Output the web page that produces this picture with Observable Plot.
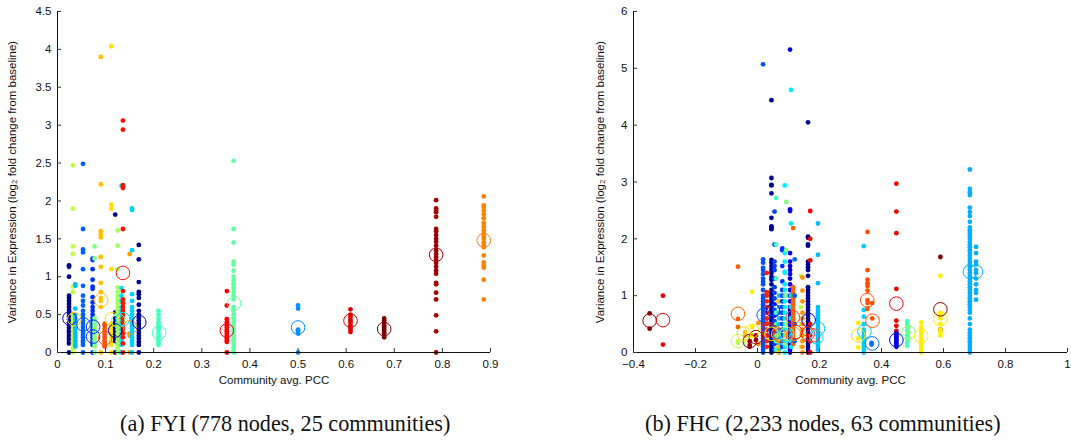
<!DOCTYPE html>
<html>
<head>
<meta charset="utf-8">
<script src="https://cdn.jsdelivr.net/npm/d3@7"></script>
<script src="https://cdn.jsdelivr.net/npm/@observablehq/plot@0.6"></script>
<style>
  html, body { margin: 0; padding: 0; background: #fff; }
  #wrap { position: relative; width: 1071px; height: 441px; overflow: hidden; }
  .panel { position: absolute; top: 0; }
  .cap { position: absolute; top: 411px; font-family: "Liberation Serif", "DejaVu Serif", serif; font-size: 22.2px; color: #111; white-space: nowrap; }
</style>
</head>
<body>
<div id="wrap">
  <div id="left" class="panel" style="left:0px"></div>
  <div id="right" class="panel" style="left:535px"></div>
  <div id="capA" class="cap"></div>
  <div id="capB" class="cap"></div>
</div>
<script>
// ---------- FYI (left) ----------
const fyiX = [0.024, 0.032, 0.037, 0.053, 0.073, 0.077, 0.09, 0.098, 0.112, 0.12, 0.125, 0.133, 0.136, 0.15, 0.155, 0.169, 0.21, 0.352, 0.366, 0.5, 0.609, 0.679, 0.787, 0.886];
const fyiColor = ["#00008f", "#bfff40", "#00bfff", "#0060ff", "#0030ff", "#80ff80", "#ffbf00", "#ff5000", "#ffdf00", "#00008f", "#a0ff60", "#00dfff", "#ff1000", "#ffa000", "#00cfff", "#00008f", "#40ffbf", "#ff0000", "#60ff9f", "#0090ff", "#df0000", "#800000", "#a00000", "#ff8000"];
const fyiValues = [
  [0, 0.12, 0.14, 0.17, 0.2, 0.22, 0.25, 0.28, 0.3, 0.33, 0.36, 0.4, 0.44, 0.48, 0.52, 0.56, 0.6, 0.64, 0.68, 0.72, 0.75, 1.0, 1.13, 1.15],
  [0, 0.05, 0.1, 0.15, 0.2, 0.25, 0.3, 0.35, 0.4, 0.45, 0.5, 0.8, 0.87, 1.3, 1.4, 1.9, 2.47],
  [0.08, 0.1, 0.13, 0.16, 0.2, 0.23, 0.26, 0.3, 0.33, 0.37, 0.4, 0.45, 0.5, 0.58, 0.88, 0.9],
  [0, 0.1, 0.13, 0.16, 0.2, 0.23, 0.26, 0.3, 0.34, 0.38, 0.42, 0.46, 0.5, 0.55, 0.62, 0.68, 0.75, 0.88, 1.1, 1.32, 1.36, 1.63, 2.49],
  [0, 0.1, 0.13, 0.16, 0.2, 0.23, 0.26, 0.3, 0.34, 0.38, 0.42, 0.46, 0.5, 0.55, 0.6, 0.66, 0.73, 0.84, 0.87, 0.96, 1.1, 1.22, 1.24],
  [0, 0.08, 0.12, 0.16, 0.2, 0.24, 0.28, 0.32, 0.36, 0.4, 0.45, 1.24, 1.4],
  [0, 0.6, 0.68, 0.72, 0.8, 0.92, 1.13, 1.26, 1.52, 1.56, 1.6, 2.22, 3.9],
  [0.08, 0.1, 0.13, 0.16, 0.2, 0.24, 0.28, 0.32, 0.36, 0.38],
  [0, 0.1, 0.15, 0.2, 0.25, 0.3, 0.35, 0.38, 1.1, 1.9, 1.95, 4.04],
  [0, 0.15, 0.18, 0.21, 0.24, 0.27, 0.3, 0.33, 0.36, 0.4, 0.45, 0.53, 1.82],
  [0, 0.06, 0.1, 0.15, 0.2, 0.25, 0.3, 0.35, 0.4, 0.45, 0.5, 0.55, 0.6, 0.65, 0.7, 0.75, 0.8, 0.86, 1.1, 1.41, 1.61],
  [0, 0.1, 0.15, 0.2, 0.25, 0.3, 0.35, 0.4, 0.45, 0.5, 0.55, 0.6, 0.68, 0.75, 0.85, 2.2],
  [0, 0.12, 0.2, 0.25, 0.3, 0.35, 0.4, 0.45, 0.5, 0.55, 0.6, 0.65, 0.7, 0.81, 1.63, 2.17, 2.19, 2.21, 2.94, 3.06],
  [0, 0.22, 0.25, 1.3],
  [0, 0.1, 0.13, 0.16, 0.2, 0.24, 0.28, 0.32, 0.36, 0.4, 0.45, 0.5, 0.55, 0.6, 0.68, 0.77, 1.35, 1.88, 1.9],
  [0, 0.1, 0.14, 0.18, 0.22, 0.26, 0.3, 0.34, 0.38, 0.42, 0.46, 0.5, 0.55, 0.63, 0.72, 0.77, 0.8, 0.93, 1.23, 1.42],
  [0.1, 0.13, 0.16, 0.2, 0.23, 0.26, 0.3, 0.33, 0.36, 0.4, 0.45, 0.5, 0.55],
  [0, 0.14, 0.16, 0.18, 0.2, 0.22, 0.25, 0.28, 0.3, 0.33, 0.36, 0.4, 0.44, 0.62, 0.81],
  [0, 0.04, 0.08, 0.12, 0.16, 0.2, 0.24, 0.28, 0.32, 0.36, 0.4, 0.45, 0.5, 0.55, 0.6, 0.7, 0.75, 0.8, 0.85, 0.9, 0.95, 1.0, 1.08, 1.16, 1.2, 1.45, 1.63, 2.53],
  [0, 0.25, 0.27, 0.29, 0.3, 0.58, 0.62],
  [0.27, 0.3, 0.33, 0.36, 0.4, 0.43, 0.47, 0.5, 0.57],
  [0.2, 0.22, 0.25, 0.27, 0.3, 0.33, 0.36, 0.39, 0.42, 0.45],
  [0, 0.28, 0.49, 0.7, 0.79, 0.9, 0.92, 1.04, 1.08, 1.13, 1.18, 1.22, 1.26, 1.3, 1.35, 1.41, 1.46, 1.5, 1.55, 1.6, 1.63, 1.79, 1.85, 1.87, 1.9, 2.01],
  [0.7, 0.96, 1.12, 1.15, 1.19, 1.28, 1.39, 1.42, 1.45, 1.5, 1.53, 1.57, 1.61, 1.66, 1.71, 1.77, 1.82, 1.87, 1.92, 1.94, 2.06]
];
const fyiMeanX = [0.025, 0.035, 0.054, 0.074, 0.074, 0.091, 0.099, 0.113, 0.12, 0.126, 0.136, 0.136, 0.151, 0.17, 0.211, 0.352, 0.367, 0.5, 0.609, 0.679, 0.787, 0.886];
const fyiMeanY = [0.45, 0.44, 0.37, 0.34, 0.21, 0.69, 0.19, 0.44, 0.29, 0.42, 1.05, 0.44, 0.33, 0.40, 0.26, 0.29, 0.65, 0.33, 0.42, 0.31, 1.29, 1.48];
const fyiMeanColor = ["#0000df", "#ffdf00", "#0060ff", "#0030ff", "#0030ff", "#ffbf00", "#ff5000", "#ffdf00", "#00008f", "#80ff80", "#ff1000", "#00dfff", "#ffa000", "#0000bf", "#40ffbf", "#ff0000", "#60ff9f", "#0090ff", "#df0000", "#800000", "#a00000", "#ff8000"];
const fyiXTicks = [0, 0.1, 0.2, 0.3, 0.4, 0.5, 0.6, 0.7, 0.8, 0.9];
const fyiXTickLabels = ["0", "0.1", "0.2", "0.3", "0.4", "0.5", "0.6", "0.7", "0.8", "0.9"];
const fyiYTicks = [0, 0.5, 1, 1.5, 2, 2.5, 3, 3.5, 4, 4.5];
const fyiYTickLabels = ["0", "0.5", "1", "1.5", "2", "2.5", "3", "3.5", "4", "4.5"];

// ---------- FHC (right) ----------
const fhcX = [-0.348, -0.305, -0.063, -0.063, -0.017, -0.025, -0.005, -0.04, 0.003, 0.018, 0.03, 0.045, 0.055, 0.06, 0.07, 0.068, 0.08, 0.088, 0.093, 0.105, 0.108, 0.115, 0.12, 0.14, 0.145, 0.163, 0.17, 0.195, 0.343, 0.355, 0.37, 0.325, 0.368, 0.448, 0.448, 0.483, 0.487, 0.528, 0.59, 0.59, 0.685, 0.705];
const fhcColor = ["#8f0000", "#ef0000", "#ff6000", "#bfff40", "#ffef00", "#8f0000", "#a00000", "#ffbf00", "#ff8f00", "#0050ff", "#ff2000", "#00008f", "#0040ff", "#40ffbf", "#00bfff", "#ffbf00", "#0030ff", "#00efff", "#80ff80", "#0000df", "#00efff", "#ff6000", "#0060ff", "#bfff40", "#ff8f00", "#00008f", "#ff0000", "#00bfff", "#00cfff", "#ff5000", "#ff5000", "#ffef00", "#0070ff", "#ef0000", "#0000df", "#40ffbf", "#80ff80", "#ffef00", "#8f0000", "#ffef00", "#00afff", "#00afff"];
const fhcValues = [
  [0.42, 0.69],
  [0.14, 1.0],
  [0.45, 0.59, 1.51],
  [0.17, 0.2],
  [0.3, 0.45, 1.07],
  [0.1, 0.13, 0.2],
  [0.22, 0.3],
  [0.3, 0.36],
  [0.15, 0.52],
  [0, 0.05, 0.1, 0.15, 0.2, 0.25, 0.3, 0.35, 0.4, 0.45, 0.5, 0.55, 0.6, 0.65, 0.7, 0.75, 0.8, 0.85, 0.9, 0.95, 1.0, 1.1, 1.2, 1.25, 1.3, 1.38, 1.45, 1.49, 1.58, 1.64, 5.07],
  [0.1, 0.2, 0.3, 0.4, 0.5, 0.6, 0.7, 0.8, 0.9, 1.0, 1.06, 1.4],
  [0, 0.05, 0.1, 0.15, 0.2, 0.25, 0.3, 0.35, 0.4, 0.45, 0.5, 0.55, 0.6, 0.65, 0.7, 0.75, 0.8, 0.85, 0.9, 0.95, 1.0, 1.05, 1.1, 1.2, 1.28, 1.33, 1.4, 1.46, 1.52, 1.58, 1.63, 2.17, 2.2, 2.22, 2.37, 2.8, 2.94, 2.95, 3.07, 4.44],
  [0.05, 0.15, 0.25, 0.35, 0.45, 0.55, 0.65, 0.75, 0.85, 0.95, 1.05, 1.15, 1.3, 1.45, 1.52, 1.6, 1.9, 2.48],
  [0.05, 0.2, 0.3, 0.5, 0.7, 1.3, 1.9, 2.72],
  [0, 0.05, 0.1, 0.15, 0.2, 0.25, 0.3, 0.35, 0.4, 0.5, 0.6, 0.7, 0.8, 0.9, 1.0],
  [0, 0.1, 0.2, 0.3, 0.9],
  [0.1, 0.2, 0.3, 0.4, 0.5, 0.6, 0.7, 0.8, 0.9, 1.0, 1.1, 1.25, 1.52, 1.8, 1.83],
  [0, 0.1, 0.2, 0.3, 0.4, 0.5, 0.6, 0.7, 0.8, 0.9, 1.0, 1.1, 1.2, 1.4, 1.42, 1.6, 1.75, 2.94],
  [0.15, 0.3, 0.5, 1.0, 1.8, 2.65],
  [0, 0.05, 0.1, 0.15, 0.2, 0.25, 0.3, 0.35, 0.4, 0.45, 0.5, 0.55, 0.6, 0.65, 0.7, 0.75, 0.8, 0.9, 1.0, 1.1, 1.2, 1.3, 1.38, 1.45, 1.52, 1.6, 1.75, 2.49, 2.52, 5.33],
  [0.1, 0.2, 0.3, 0.4, 0.6, 0.8, 1.0, 2.27, 4.62],
  [0.15, 0.2, 0.25, 0.3, 0.35, 0.4, 0.45, 0.5, 0.55, 0.6, 0.65, 0.7, 0.75, 0.8, 0.85, 0.9, 0.95, 1.0, 1.05, 1.1, 1.15, 2.19],
  [0.2, 0.5, 1.0, 1.64],
  [0.1, 0.3, 0.5, 0.8, 1.35],
  [0, 0.1, 0.2, 0.3, 0.4, 0.5, 0.6, 0.7, 0.9, 1.09, 1.32],
  [0, 0.05, 0.1, 0.15, 0.2, 0.25, 0.3, 0.35, 0.4, 0.45, 0.5, 0.55, 0.6, 0.65, 0.7, 0.75, 0.8, 0.85, 0.9, 0.95, 1.0, 1.05, 1.1, 1.15, 1.35, 1.45, 1.5, 1.55, 1.6, 1.88, 1.9, 2.02, 2.04, 4.05],
  [0, 0.2, 0.3, 0.5, 1.62, 2.0, 2.49],
  [0.05, 0.1, 0.15, 0.2, 0.25, 0.3, 0.35, 0.4, 0.45, 0.5, 0.55, 0.6, 0.65, 0.7, 0.75, 0.8, 1.22, 1.72, 2.27],
  [0, 0.05, 0.1, 0.15, 0.2, 0.25, 0.3, 0.35, 0.4, 0.5, 0.63, 0.75, 1.87],
  [0.77, 0.87, 0.92, 1.09, 1.17, 1.22, 1.28, 1.45, 2.12],
  [0.6, 0.87],
  [0.09, 0.25, 0.52],
  [0.14, 0.17],
  [0.38, 0.47, 0.56, 1.12, 2.1, 2.48, 2.97],
  [0.1, 0.13, 0.16, 0.19, 0.22, 0.25, 0.28, 0.31, 0.34],
  [0.12, 0.18, 0.25, 0.3, 0.38, 0.45, 0.5, 0.55],
  [0.25, 0.35, 0.45],
  [0, 0.05, 0.1, 0.15, 0.2, 0.25, 0.3, 0.35, 0.4, 0.45, 0.53],
  [0.4, 1.68],
  [0.3, 0.35, 0.4, 0.5, 0.6, 0.65, 0.7, 1.35],
  [0, 0.05, 0.1, 0.15, 0.2, 0.25, 0.3, 0.35, 0.4, 0.5, 0.6, 0.7, 0.75, 0.8, 0.85, 0.9, 0.95, 1.0, 1.05, 1.1, 1.15, 1.2, 1.25, 1.3, 1.35, 1.4, 1.45, 1.5, 1.55, 1.6, 1.65, 1.7, 1.75, 1.8, 1.85, 1.9, 1.95, 2.0, 2.05, 2.1, 2.15, 2.2, 2.3, 2.4, 2.47, 2.55, 2.77, 2.82, 2.88, 3.22],
  [0.93, 1.05, 1.1, 1.2, 1.3, 1.4, 1.45, 1.55, 1.6, 1.75, 1.86]
];
const fhcMeanX = [-0.348, -0.305, -0.063, -0.063, -0.017, -0.025, -0.005, -0.044, 0.02, 0.035, 0.05, 0.055, 0.034, 0.045, 0.067, 0.073, 0.09, 0.095, 0.114, 0.117, 0.123, 0.165, 0.162, 0.179, 0.195, 0.19, 0.345, 0.354, 0.371, 0.325, 0.37, 0.448, 0.448, 0.487, 0.528, 0.59, 0.59, 0.685, 0.705];
const fhcMeanY = [0.56, 0.57, 0.68, 0.2, 0.38, 0.2, 0.27, 0.33, 0.66, 0.38, 0.74, 0.35, 0.42, 0.33, 0.33, 0.30, 0.3, 0.33, 0.62, 0.33, 0.36, 0.57, 0.33, 0.3, 0.42, 0.27, 0.37, 0.92, 0.56, 0.3, 0.16, 0.86, 0.22, 0.35, 0.29, 0.76, 0.59, 1.42, 1.42];
const fhcMeanColor = ["#8f0000", "#ef0000", "#ff6000", "#bfff40", "#ffef00", "#8f0000", "#a00000", "#ffdf00", "#0050ff", "#ff2000", "#0000df", "#0040ff", "#ff2000", "#ffef00", "#ffbf00", "#ff5000", "#00efff", "#80ff80", "#ff4000", "#ff8f00", "#ff2000", "#0000bf", "#ff2000", "#ff3000", "#00bfff", "#00dfff", "#00cfff", "#ff5000", "#ff5000", "#ffdf00", "#0070ff", "#ef0000", "#0000df", "#80ff80", "#ffef00", "#8f0000", "#ffef00", "#00afff", "#00afff"];
const fhcXTicks = [-0.4, -0.2, 0, 0.2, 0.4, 0.6, 0.8, 1];
const fhcXTickLabels = ["\u22120.4", "\u22120.2", "0", "0.2", "0.4", "0.6", "0.8", "1"];
const fhcYTicks = [0, 1, 2, 3, 4, 5, 6];
const fhcYTickLabels = ["0", "1", "2", "3", "4", "5", "6"];

const yLabel = "Variance in Expression (log\u2082 fold change from baseline)";
const xLabel = "Community avg. PCC";
const captionA = "(a) FYI (778 nodes, 25 communities)";
const captionB = "(b) FHC (2,233 nodes, 63 communities)";

function flatten(xs, colors, values) {
  return values.flatMap((ys, i) => ys.map(y => ({x: xs[i], y, c: colors[i]})));
}
function means(xs, ys, colors) {
  return xs.map((x, i) => ({x, y: ys[i], c: colors[i]}));
}

function panel({width, ml, mr, xDomain, yDomain, xTicks, xLabels, yTicks, yLabels, dots, circles, yLabelOffset}) {
  const xl = new Map(xTicks.map((t, i) => [t, xLabels[i]]));
  const yl = new Map(yTicks.map((t, i) => [t, yLabels[i]]));
  return Plot.plot({
    width, height: 392,
    marginLeft: ml, marginRight: mr, marginTop: 11, marginBottom: 40,
    x: {domain: xDomain},
    y: {domain: yDomain},
    color: {type: "identity"},
    style: {fontFamily: "'Liberation Sans', Arial, sans-serif", fontSize: "11.5px", color: "#111", background: "white", overflow: "visible"},
    marks: [
      Plot.dot(dots, {x: "x", y: "y", r: 2.4, fill: "c", stroke: null}),
      Plot.dot(circles, {x: "x", y: "y", r: 6.8, fill: "none", stroke: "c", strokeWidth: 1}),
      Plot.ruleY([yDomain[0]], {x1: xDomain[0], x2: xDomain[1], stroke: "#111", strokeWidth: 1}),
      Plot.ruleX([xDomain[0]], {y1: yDomain[0], y2: yDomain[1], stroke: "#111", strokeWidth: 1}),
      Plot.axisX(xTicks, {anchor: "bottom", tickSize: -4, tickPadding: 11, tickFormat: d => xl.get(d), label: xLabel, labelArrow: "none", labelAnchor: "center", labelOffset: 31, stroke: "#333"}),
      Plot.axisY(yTicks, {anchor: "left", tickSize: -4, tickPadding: 10, tickFormat: d => yl.get(d), label: yLabel, labelArrow: "none", labelAnchor: "center", labelOffset: yLabelOffset, stroke: "#333"})
    ]
  });
}

document.getElementById("left").appendChild(panel({
  width: 535, ml: 57, mr: 45,
  xDomain: [0, 0.9], yDomain: [0, 4.5],
  xTicks: fyiXTicks, xLabels: fyiXTickLabels, yTicks: fyiYTicks, yLabels: fyiYTickLabels,
  dots: flatten(fyiX, fyiColor, fyiValues), circles: means(fyiMeanX, fyiMeanY, fyiMeanColor),
  yLabelOffset: 50
}));
document.getElementById("right").appendChild(panel({
  width: 536, ml: 98, mr: 4,
  xDomain: [-0.4, 1], yDomain: [0, 6],
  xTicks: fhcXTicks, xLabels: fhcXTickLabels, yTicks: fhcYTicks, yLabels: fhcYTickLabels,
  dots: flatten(fhcX, fhcColor, fhcValues), circles: means(fhcMeanX, fhcMeanY, fhcMeanColor),
  yLabelOffset: 38
}));
const ca = document.getElementById("capA"); ca.textContent = captionA; ca.style.left = "120px";
const cb = document.getElementById("capB"); cb.textContent = captionB; cb.style.left = "645px";
</script>
</body>
</html>
